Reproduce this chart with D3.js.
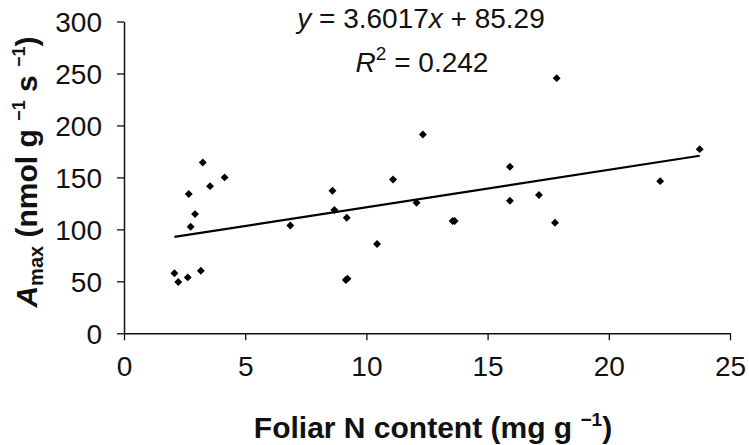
<!DOCTYPE html>
<html>
<head>
<meta charset="utf-8">
<script src="https://cdn.jsdelivr.net/npm/d3@7"></script>
<style>
  body { margin: 0; background: #fff; }
  svg { font-family: "Liberation Sans", Arial, sans-serif; }
</style>
</head>
<body>
<script>
// Foliar N content (mg g-1) vs Amax (nmol g-1 s-1)
var foliarN = [2.08, 2.24, 2.63, 3.17, 2.75, 2.93, 2.67, 3.25, 3.55, 4.15, 6.86,
               8.6, 8.68, 9.19, 9.15, 9.22, 10.44, 11.1, 12.33, 12.07, 13.56, 13.64,
               15.92, 15.92, 17.12, 17.85, 17.78, 22.12, 23.75];
var amax    = [57.7, 49.3, 53.8, 60.2, 102.5, 114.7, 134, 164.4, 141.6, 150, 103.8,
               137.1, 118.6, 111.2, 51.3, 52.6, 85.9, 148, 191.3, 125.6, 108, 108,
               160.2, 127.5, 133, 245.5, 106.3, 146.4, 177.2];

var slope = 3.6017, intercept = 85.29;
var xTicks = [0, 5, 10, 15, 20, 25];
var yTicks = [0, 50, 100, 150, 200, 250, 300];

var w = 749, h = 445;
var plotLeft = 124, plotRight = 730, plotTop = 21.5, plotBottom = 333.3;

var svg = d3.select("body").append("svg")
    .attr("width", w)
    .attr("height", h);

var x = d3.scaleLinear().domain([0, 25]).range([plotLeft, plotRight]);
var y = d3.scaleLinear().domain([0, 300]).range([plotBottom, plotTop]);

// axes
var xAxis = svg.append("g")
    .attr("transform", "translate(0," + plotBottom + ")")
    .call(d3.axisBottom(x).tickValues(xTicks).tickSize(7).tickSizeOuter(0).tickPadding(16));
var yAxis = svg.append("g")
    .attr("transform", "translate(" + plotLeft + ",0)")
    .call(d3.axisLeft(y).tickValues(yTicks).tickSize(7).tickSizeOuter(0).tickPadding(15));

[xAxis, yAxis].forEach(function(g) {
  g.select(".domain").attr("stroke", "#111").attr("stroke-width", 1.5);
  g.selectAll(".tick line").attr("stroke", "#111").attr("stroke-width", 1.3);
  g.selectAll(".tick text")
    .attr("fill", "#111")
    .style("font-size", "28px")
    .style("font-family", "Liberation Sans, Arial, sans-serif");
});
xAxis.selectAll(".tick text").attr("dy", "0.71em");
yAxis.selectAll(".tick text").attr("dy", "0.36em");

// points (diamonds)
var diamond = d3.symbol().type(d3.symbolDiamond2).size(40);
svg.selectAll("path.pt")
    .data(foliarN)
    .enter()
    .append("path")
    .attr("class", "pt")
    .attr("d", diamond)
    .attr("transform", function(d, i) { return "translate(" + x(d) + "," + y(amax[i]) + ")"; })
    .attr("fill", "#000");

// trend line
var xMin = d3.min(foliarN), xMax = d3.max(foliarN);
svg.append("line")
    .attr("x1", x(xMin)).attr("y1", y(slope * xMin + intercept))
    .attr("x2", x(xMax)).attr("y2", y(slope * xMax + intercept))
    .attr("stroke", "#000")
    .attr("stroke-width", 2.2);

// equation
var eq = svg.append("text")
    .attr("x", 421).attr("y", 28)
    .attr("text-anchor", "middle")
    .style("font-size", "28px")
    .attr("fill", "#111");
eq.append("tspan").style("font-style", "italic").text("y");
eq.append("tspan").text(" = 3.6017");
eq.append("tspan").style("font-style", "italic").text("x");
eq.append("tspan").text(" + 85.29");

var r2 = svg.append("text")
    .attr("x", 422).attr("y", 72)
    .attr("text-anchor", "middle")
    .style("font-size", "28px")
    .attr("fill", "#111");
r2.append("tspan").style("font-style", "italic").text("R");
r2.append("tspan").attr("dy", -12).style("font-size", "19px").text("2");
r2.append("tspan").attr("dy", 12).text(" = 0.242");

// x title
var xt = svg.append("text")
    .attr("x", 433).attr("y", 438)
    .attr("text-anchor", "middle")
    .style("font-size", "30px")
    .style("font-weight", "bold")
    .attr("fill", "#111");
xt.append("tspan").text("Foliar N content (mg g ");
xt.append("tspan").attr("dy", -12).style("font-size", "19px").text("\u22121");
xt.append("tspan").attr("dy", 12).text(")");

// y title
var yt = svg.append("text")
    .attr("transform", "translate(37,172) rotate(-90)")
    .attr("text-anchor", "middle")
    .style("font-size", "30px")
    .style("font-weight", "bold")
    .attr("fill", "#111");
yt.append("tspan").style("font-style", "italic").text("A");
yt.append("tspan").attr("dy", 6).style("font-size", "20px").text("max");
yt.append("tspan").attr("dy", -6).text(" (nmol g ");
yt.append("tspan").attr("dy", -12).style("font-size", "18px").text("\u22121");
yt.append("tspan").attr("dy", 12).text(" s ");
yt.append("tspan").attr("dy", -12).style("font-size", "18px").text("\u22121");
yt.append("tspan").attr("dy", 12).text(")");
</script>
</body>
</html>
